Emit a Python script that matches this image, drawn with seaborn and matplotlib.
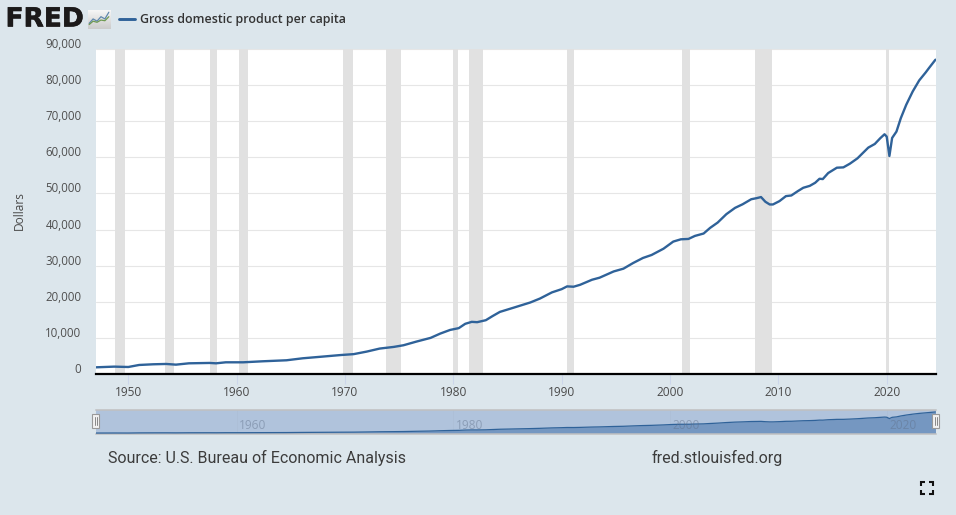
import matplotlib
matplotlib.use("Agg")
import matplotlib.pyplot as plt
import matplotlib.patheffects as pe
from matplotlib.patches import Rectangle
from matplotlib.transforms import ScaledTranslation
import numpy as np
import pandas as pd
import seaborn as sns

years = [1947.0, 1948.7, 1950.0, 1951.0, 1952.3, 1953.5, 1954.4, 1955.6, 1957.5, 1958.1, 1959.0,
         1960.6, 1962.4, 1964.6, 1966.1, 1967.9, 1969.6, 1970.8, 1972.0, 1973.2, 1974.5, 1975.4,
         1976.6, 1977.9, 1978.8, 1979.7, 1980.5, 1981.1, 1981.7, 1982.2, 1983.0, 1983.6, 1984.3,
         1985.6, 1987.1, 1988.0, 1989.1, 1990.0, 1990.5, 1991.1, 1991.7, 1992.8, 1993.5, 1994.8,
         1995.7, 1996.6, 1997.5, 1998.3, 1999.4, 2000.3, 2001.0, 2001.7, 2002.3, 2003.1, 2003.7,
         2004.4, 2005.2, 2006.0, 2006.7, 2007.5, 2008.0, 2008.4, 2008.8, 2009.2, 2009.5, 2010.1,
         2010.7, 2011.2, 2011.8, 2012.3, 2012.9, 2013.4, 2013.8, 2014.1, 2014.6, 2015.4, 2016.0,
         2016.6, 2017.3, 2018.3, 2018.9, 2019.4, 2019.8, 2020.0, 2020.25, 2020.5, 2020.9, 2021.3,
         2021.8, 2022.4, 2023.0, 2023.6, 2023.9, 2024.5]
gdp = [1850, 2040, 1940, 2500, 2690, 2780, 2590, 2960, 3060, 2960, 3240,
       3240, 3520, 3800, 4350, 4810, 5250, 5500, 6200, 7040, 7500, 7960,
       8980, 10000, 11200, 12200, 12700, 13900, 14440, 14350, 14900, 16000, 17200,
       18400, 19800, 20900, 22600, 23500, 24260, 24170, 24700, 26100, 26670, 28400,
       29170, 30740, 32130, 32960, 34700, 36670, 37300, 37400, 38240, 38900, 40460,
       41940, 44260, 46000, 47000, 48400, 48700, 49000, 47700, 46950, 46950, 47870,
       49260, 49440, 50650, 51570, 52100, 52960, 54070, 53980, 55650, 57130, 57220,
       58240, 59720, 62690, 63700, 65280, 66390, 65740, 60370, 65370, 67130, 70830,
       74540, 78240, 81300, 83520, 84720, 87040]
recession_start = [1948.78, 1953.43, 1957.55, 1960.22, 1969.85, 1973.83, 1979.98, 1981.45, 1990.45, 2001.15, 2007.85, 2019.97]
recession_end = [1949.72, 1954.25, 1958.2, 1961.03, 1970.78, 1975.13, 1980.45, 1982.78, 1991.15, 2001.8, 2009.4, 2020.22]
y_ticks = [0, 10000, 20000, 30000, 40000, 50000, 60000, 70000, 80000, 90000]
x_ticks = [1950, 1960, 1970, 1980, 1990, 2000, 2010, 2020]
nav_ticks = [1960, 1980, 2000, 2020]
series_name = "Gross domestic product per capita"
icon_blue = [1, 3, 2, 4, 3, 6]
icon_green = [0.5, 2, 1.5, 2.5, 2.2, 4]

W, H = 956, 515
BG = "#dce6ec"
LINE = "#2f6299"
SANS = ["Open Sans", "DejaVu Sans"]


def box(l, t, r, b):
    return [l / W, 1 - b / H, (r - l) / W, (b - t) / H]


sns.set_theme(style="white")
plt.rcParams["font.family"] = SANS
df = pd.DataFrame({"year": years, "gdp": gdp})

fig = plt.figure(figsize=(W / 100, H / 100), dpi=100, facecolor=BG)

# main chart
ax = fig.add_axes(box(96, 49, 936, 374), facecolor="white")
sns.lineplot(data=df, x="year", y="gdp", ax=ax, color=LINE, linewidth=1.7,
             estimator=None, errorbar=None, label=series_name, zorder=3)
ax.set_xlim(1947.02, 2024.55)
ax.set_ylim(0, 90000)
ax.set_xticks(x_ticks)
ax.set_yticks(y_ticks)
ax.set_yticklabels([f"{v:,}" for v in y_ticks])
ax.yaxis.grid(True, color="#e6e6e6", linewidth=0.8, zorder=0)
ax.xaxis.grid(False)
ax.set_axisbelow(True)
for s, e in zip(recession_start, recession_end):
    ax.axvspan(s, e, color="#e1e1e1", linewidth=0, zorder=1)
for side in ("top", "left", "right"):
    ax.spines[side].set_visible(False)
ax.spines["bottom"].set_color("black")
ax.spines["bottom"].set_linewidth(1.6)
ax.tick_params(axis="x", bottom=True, length=7.2, width=0.8, color="#ccd6eb",
               labelsize=8.6, labelcolor="#4a4a4a", pad=1.5)
ax.tick_params(axis="y", left=False, labelsize=8.3, labelcolor="#4f4f4f", pad=4.5)
up = ScaledTranslation(0, 6 / 100, fig.dpi_scale_trans)
for lab in ax.get_yticklabels():
    lab.set_transform(lab.get_transform() + up)
ax.set_xlabel("")
ax.set_ylabel("")
fig.text(19 / W, 1 - 211 / H, "Dollars", rotation=90, ha="center", va="center",
         fontsize=8.6, color="#4a4a4a")
leg = ax.legend(loc="center left", bbox_to_anchor=(115.5 / W, 1 - 19.5 / H), bbox_transform=fig.transFigure,
                frameon=False, handlelength=1.3, handletextpad=0.35, borderpad=0.3, borderaxespad=0,
                prop={"size": 8.95, "weight": "semibold", "family": SANS})
for t in leg.get_texts():
    t.set_color("#333333")
for h in leg.get_lines():
    h.set_linewidth(2.1)

# navigator
nav = fig.add_axes(box(96, 409.5, 936, 433.5), facecolor="#b0c3dc")
sns.lineplot(data=df, x="year", y="gdp", ax=nav, color=LINE, linewidth=0.9,
             estimator=None, errorbar=None, legend=False, zorder=3)
nav.fill_between(years, gdp, 0, color="#7597c1", linewidth=0, zorder=2)
nav.set_xlim(1947.02, 2024.55)
nav.set_ylim(0, 97000)
nav.set_xticks([])
nav.set_yticks([])
nav.set_xlabel("")
nav.set_ylabel("")
for side in ("left", "right"):
    nav.spines[side].set_visible(False)
for side in ("top", "bottom"):
    nav.spines[side].set_color("#c0c0c0")
    nav.spines[side].set_linewidth(1.1)
for t in nav_ticks:
    nav.axvline(t, color="#a9b8cf", linewidth=0.5, alpha=0.5, zorder=1)
    nav.annotate(str(t), xy=(t, 0.34), xycoords=("data", "axes fraction"), xytext=(16 * 0.72, 0),
                 textcoords="offset points", ha="center", va="center", fontsize=8.6,
                 color="#5f6f88", alpha=0.45, zorder=4)

# surrounding furniture, in pixel coordinates
over = fig.add_axes([0, 0, 1, 1], facecolor="none", zorder=10)
over.set_xlim(0, W)
over.set_ylim(H, 0)
over.axis("off")
for x0 in (91.8, 931.8):
    over.add_patch(Rectangle((x0, 413.5), 7.4, 14.5, facecolor="#f2f2f2", edgecolor="#999999", linewidth=0.8))
    over.plot([x0 + 2.8, x0 + 2.8], [417, 425], color="#888888", linewidth=0.7)
    over.plot([x0 + 4.8, x0 + 4.8], [417, 425], color="#888888", linewidth=0.7)
fs = dict(color="#111111", linewidth=1.5, solid_capstyle="butt", solid_joinstyle="miter")
over.plot([921, 921, 925], [486, 482, 482], **fs)
over.plot([929, 933, 933], [482, 482, 486], **fs)
over.plot([921, 921, 925], [490, 494, 494], **fs)
over.plot([929, 933, 933], [494, 494, 490], **fs)

fig.text(108 / W, 1 - 457.5 / H, "Source: U.S. Bureau of Economic Analysis", family=["Roboto", "DejaVu Sans"],
         fontsize=11.5, color="#3c3c3c", ha="left", va="center")
fig.text(652 / W, 1 - 457.5 / H, "fred.stlouisfed.org", family=["Roboto", "DejaVu Sans"],
         fontsize=11.5, color="#3c3c3c", ha="left", va="center")
logo = fig.text(5.5 / W, 1 - 19.5 / H, "FRED", family="DejaVu Sans", fontweight="bold", fontsize=19.0,
                color="#1c1a1a", ha="left", va="center")
logo.set_path_effects([pe.withStroke(linewidth=0.4, foreground="#1c1a1a")])

icon = fig.add_axes(box(88, 10, 110, 29))
icon.imshow(np.linspace(0.96, 0.80, 16).reshape(-1, 1), cmap="gray", vmin=0, vmax=1,
            aspect="auto", extent=(-0.3, 5.3, -1.5, 7), zorder=0)
icon.plot(icon_blue, color="#5f87ad", linewidth=0.9, zorder=2)
icon.plot(icon_green, color="#6f9a52", linewidth=0.9, zorder=2)
icon.set_xticks([])
icon.set_yticks([])
icon.set_xlim(-0.3, 5.3)
icon.set_ylim(-1.5, 7)
for s in icon.spines.values():
    s.set_visible(False)

fig.savefig("out.png", dpi=100, facecolor=BG)
